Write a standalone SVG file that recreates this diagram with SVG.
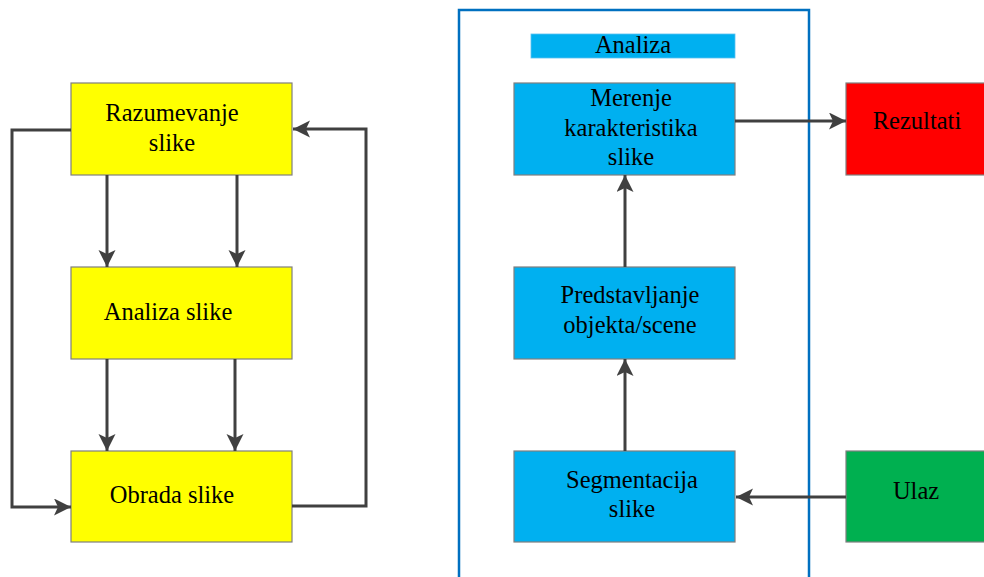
<svg xmlns="http://www.w3.org/2000/svg" width="984" height="577" viewBox="0 0 984 577">
<style>
.box{stroke:#7f7f7f;stroke-width:1.2}
.y{fill:#ffff00}.b{fill:#00b0f0}.r{fill:#ff0000}.g{fill:#00b050}
.t{font-family:'Liberation Serif','Times New Roman',serif;font-size:24.5px;fill:#000;text-anchor:middle}
.c{fill:none;stroke:#404040;stroke-width:3}
</style>
<defs>
<marker id="ah" markerUnits="userSpaceOnUse" markerWidth="20" markerHeight="18" refX="17" refY="8.5" orient="auto">
<path d="M0,0 L17,8.5 L0,17 L4,8.5 Z" fill="#404040"/>
</marker>
</defs>
<rect x="0" y="0" width="984" height="577" fill="#ffffff"/>
<g id="container">
<rect x="459" y="10" width="350" height="580" fill="none" stroke="#0070c0" stroke-width="2.5"/>
</g>
<g id="analiza-label">
<rect x="531" y="34" width="204" height="24" class="b" stroke="#5bc0f0" stroke-width="0.8"/>
<text class="t" x="633" y="53">Analiza</text>
</g>
<g id="razumevanje">
<rect x="71" y="83" width="221" height="92" class="box y"/>
<text class="t" x="172" y="121">Razumevanje</text>
<text class="t" x="172" y="151">slike</text>
</g>
<g id="analiza-slike">
<rect x="71" y="267" width="221" height="92" class="box y"/>
<text class="t" x="168" y="320">Analiza slike</text>
</g>
<g id="obrada">
<rect x="71" y="451" width="221" height="91" class="box y"/>
<text class="t" x="172" y="503">Obrada slike</text>
</g>
<g id="merenje">
<rect x="514" y="83" width="221" height="92" class="box b"/>
<text class="t" x="631" y="106">Merenje</text>
<text class="t" x="631" y="136">karakteristika</text>
<text class="t" x="631" y="165">slike</text>
</g>
<g id="predstavljanje">
<rect x="514" y="267" width="221" height="92" class="box b"/>
<text class="t" x="630" y="303">Predstavljanje</text>
<text class="t" x="630" y="333">objekta/scene</text>
</g>
<g id="segmentacija">
<rect x="514" y="451" width="221" height="91" class="box b"/>
<text class="t" x="632" y="488">Segmentacija</text>
<text class="t" x="632" y="517">slike</text>
</g>
<g id="rezultati">
<rect x="846" y="83" width="150" height="92" class="box r"/>
<text class="t" x="917" y="129">Rezultati</text>
</g>
<g id="ulaz">
<rect x="846" y="451" width="150" height="91" class="box g"/>
<text class="t" x="916" y="499">Ulaz</text>
</g>
<g id="connectors">
<path class="c" d="M107,175 V267" marker-end="url(#ah)"/>
<path class="c" d="M237,175 V267" marker-end="url(#ah)"/>
<path class="c" d="M107,359 V451" marker-end="url(#ah)"/>
<path class="c" d="M235,359 V451" marker-end="url(#ah)"/>
<path class="c" d="M71,130 H12 V507 H71" marker-end="url(#ah)"/>
<path class="c" d="M292,506 H366 V129 H293" marker-end="url(#ah)"/>
<path class="c" d="M625,451 V359" marker-end="url(#ah)"/>
<path class="c" d="M625,267 V175" marker-end="url(#ah)"/>
<path class="c" d="M735,121 H846" marker-end="url(#ah)"/>
<path class="c" d="M846,497 H736" marker-end="url(#ah)"/>
</g>
</svg>
